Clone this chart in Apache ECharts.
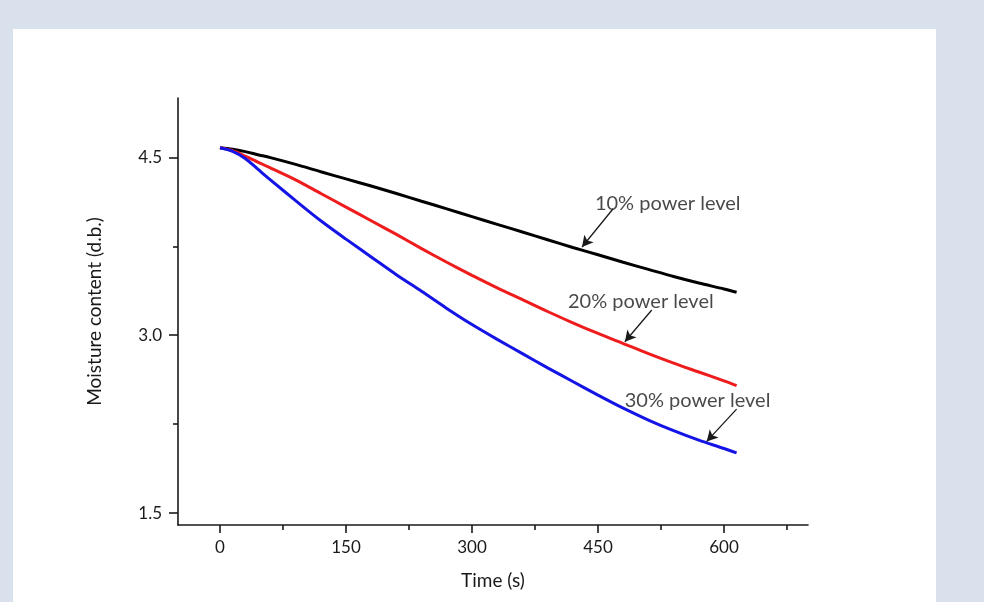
<!DOCTYPE html>
<html>
<head>
<meta charset="utf-8">
<script src="https://cdn.jsdelivr.net/npm/echarts@6/dist/echarts.min.js"></script>
<style>html,body{margin:0;padding:0;background:#d9e1ed;}#c{width:984px;height:602px;}</style>
</head>
<body>
<div id="c"></div>
<script>
// Time (s)
const times = [0, 15, 30, 45, 60, 90, 120, 150, 180, 210, 240, 270, 300, 330, 360, 390, 420, 450, 480, 510, 540, 570, 600, 615];
// Moisture content (d.b.)
const power10 = [4.58, 4.568, 4.548, 4.522, 4.497, 4.44, 4.378, 4.318, 4.258, 4.195, 4.13, 4.065, 4.00, 3.935, 3.87, 3.805, 3.74, 3.678, 3.615, 3.555, 3.495, 3.44, 3.39, 3.362];
const power20 = [4.58, 4.555, 4.51, 4.46, 4.41, 4.31, 4.195, 4.08, 3.965, 3.85, 3.73, 3.615, 3.505, 3.40, 3.30, 3.20, 3.105, 3.015, 2.93, 2.845, 2.765, 2.69, 2.615, 2.575];
const power30 = [4.58, 4.55, 4.49, 4.40, 4.31, 4.135, 3.965, 3.81, 3.66, 3.51, 3.37, 3.226, 3.09, 2.965, 2.845, 2.725, 2.61, 2.495, 2.385, 2.285, 2.195, 2.115, 2.045, 2.008];
const seriesNames = ['10% power level', '20% power level', '30% power level'];
const xMajorTicks = [0, 150, 300, 450, 600];
const xMinorTicks = [75, 225, 375, 525, 675];
const yMajorTicks = [1.5, 3.0, 4.5];
const yMinorTicks = [2.25, 3.75];
// annotation anchors in data space: [text position], [arrow start], [arrow end]
const annotations = [
  {text: seriesNames[0], at: [533, 4.111], from: [468, 4.066], to: [431, 3.744]},
  {text: seriesNames[1], at: [501, 3.287], from: [514, 3.213], to: [482, 2.945]},
  {text: seriesNames[2], at: [568.5, 2.450], from: [615, 2.377], to: [579.4, 2.105]}
];

const font = 'Lato, "Open Sans", sans-serif';
const chart = echarts.init(document.getElementById('c'));
const pair = (ys) => times.map((t, i) => [t, ys[i]]);
const colors = ['#000000', '#ee1c1c', '#1414e6'];
const datasets = [power10, power20, power30];

const series = datasets.map((d, i) => ({
  name: seriesNames[i],
  type: 'line',
  data: pair(d),
  showSymbol: false,
  smooth: 0.3,
  lineStyle: {color: colors[i], width: 3},
  itemStyle: {color: colors[i]},
  z: 3
}));

series.push({
  type: 'scatter',
  data: annotations.map(a => ({value: a.at, label: {formatter: a.text}})),
  symbolSize: 0,
  silent: true,
  label: {show: true, position: 'inside', color: '#1a1a1a', fontSize: 20, fontFamily: font},
  markLine: {
    silent: true,
    symbol: ['none', 'arrow'],
    symbolSize: [9, 11],
    label: {show: false},
    lineStyle: {color: '#1a1a1a', width: 1.3, type: 'solid'},
    data: annotations.map(a => [{coord: a.from}, {coord: a.to}])
  },
  z: 5
});

chart.setOption({
  backgroundColor: '#d9e1ed',
  animation: false,
  graphic: [{type: 'rect', z: -100, shape: {x: 13, y: 29, width: 923, height: 573}, style: {fill: '#ffffff'}}],
  grid: {left: 178, right: 176, top: 98, bottom: 77},
  xAxis: [{
    type: 'value', min: -50, max: 700,
    name: 'Time (s)', nameLocation: 'middle', nameGap: 46,
    nameTextStyle: {color: '#1a1a1a', fontSize: 19, fontFamily: font},
    axisLine: {show: true, onZero: false, lineStyle: {color: '#1a1a1a', width: 1.6}},
    axisTick: {show: true, length: 8, customValues: xMajorTicks, lineStyle: {color: '#1a1a1a', width: 1.6}},
    axisLabel: {customValues: xMajorTicks, margin: 14, color: '#1a1a1a', fontSize: 17, fontFamily: font},
    splitLine: {show: false}
  }, {
    type: 'value', min: -50, max: 700, position: 'bottom',
    axisLine: {show: false, onZero: false},
    axisTick: {show: true, length: 5, customValues: xMinorTicks, lineStyle: {color: '#1a1a1a', width: 1.6}},
    axisLabel: {show: false},
    splitLine: {show: false}
  }],
  yAxis: [{
    type: 'value', min: 1.4, max: 5.0,
    name: 'Moisture content (d.b.)', nameLocation: 'middle', nameGap: 74,
    nameTextStyle: {color: '#1a1a1a', fontSize: 19, fontFamily: font},
    axisLine: {show: true, onZero: false, lineStyle: {color: '#1a1a1a', width: 1.6}},
    axisTick: {show: true, length: 9, customValues: yMajorTicks, lineStyle: {color: '#1a1a1a', width: 1.6}},
    axisLabel: {customValues: yMajorTicks, margin: 16, color: '#1a1a1a', fontSize: 17, fontFamily: font,
      formatter: v => v.toFixed(1)},
    splitLine: {show: false}
  }, {
    type: 'value', min: 1.4, max: 5.0, position: 'left',
    axisLine: {show: false, onZero: false},
    axisTick: {show: true, length: 5, customValues: yMinorTicks, lineStyle: {color: '#1a1a1a', width: 1.6}},
    axisLabel: {show: false},
    splitLine: {show: false}
  }],
  series: series
});
</script>
</body>
</html>
